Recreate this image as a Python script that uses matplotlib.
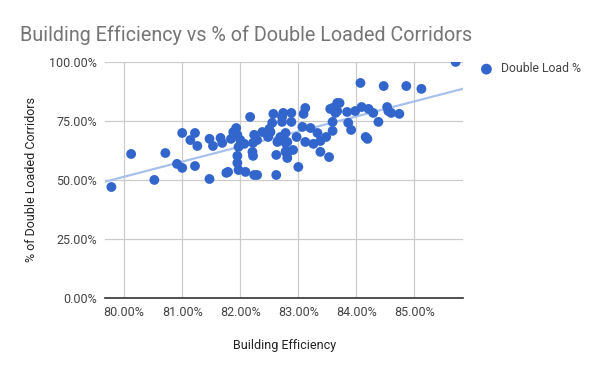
import numpy as np
import matplotlib
matplotlib.use('Agg')
import matplotlib.pyplot as plt
from matplotlib.ticker import FuncFormatter

plt.rcParams['font.family'] = ['Roboto', 'DejaVu Sans']

# building efficiency (%) and share of double loaded corridors (%)
efficiency = [
    79.78, 80.12, 80.52, 80.71, 80.91, 81.00, 81.22, 81.47, 81.76, 81.79,
    81.97, 81.95, 81.95, 82.09, 82.24, 82.29, 82.62, 82.62, 82.81, 82.91,
    83.00, 81.00, 81.22, 81.14, 81.26, 81.47, 81.53, 81.66, 81.69, 81.84,
    81.93, 81.95, 82.00, 82.07, 82.17, 81.97, 82.22, 82.24, 82.29, 82.38,
    82.47, 82.50, 82.57, 82.55, 82.64, 82.69, 82.74, 82.88, 82.88, 82.78,
    82.81, 82.97, 82.22, 82.21, 82.72, 83.12, 83.09, 83.59, 83.67, 83.64,
    82.72, 83.07, 83.21, 83.33, 83.59, 83.59, 83.12, 83.26, 83.38, 83.48,
    83.38, 83.53, 82.78, 82.78, 82.48, 81.88, 82.52, 85.71, 84.07, 84.47,
    84.86, 85.12, 83.71, 83.55, 83.67, 83.84, 83.98, 84.09, 84.21, 84.29,
    84.53, 84.55, 84.60, 84.74, 84.38, 83.86, 83.91, 84.16, 84.19, 82.81,
    82.79,
]
double_load = [
    47.0, 61.0, 50.0, 61.4, 56.8, 55.1, 55.9, 50.4, 53.0, 53.4,
    54.2, 57.2, 60.2, 53.4, 52.1, 52.1, 52.1, 60.6, 59.3, 62.7,
    55.5, 69.9, 69.9, 66.9, 64.4, 67.4, 64.4, 67.8, 65.7, 67.4,
    72.0, 69.1, 66.9, 65.3, 76.7, 64.0, 65.7, 69.1, 66.9, 70.3,
    69.1, 71.6, 78.0, 74.2, 66.1, 68.2, 78.4, 78.4, 74.6, 69.9,
    66.1, 68.2, 60.2, 61.9, 76.7, 80.5, 78.0, 80.5, 82.6, 78.4,
    74.6, 72.5, 72.0, 69.9, 74.6, 70.8, 66.1, 65.3, 66.5, 68.2,
    61.9, 59.7, 61.9, 65.7, 68.2, 70.3, 70.3, 100.0, 91.1, 89.8,
    89.8, 88.6, 82.6, 80.1, 79.2, 78.8, 79.2, 80.9, 80.1, 78.4,
    80.9, 79.2, 78.4, 78.0, 74.6, 74.2, 71.2, 68.2, 67.4, 61.4,
    62.3,
]
x_ticks = [80, 81, 82, 83, 84, 85]
y_ticks = [0, 25, 50, 75, 100]

x = np.array(efficiency)
y = np.array(double_load)

fig = plt.figure(figsize=(6, 3.71), dpi=100)
ax = fig.add_axes([0.175, 0.197, 0.597, 0.636])

xlim = (79.67, 85.84)
slope, icpt = np.polyfit(x, y, 1)
tx = np.array(xlim)
ax.plot(tx, slope * tx + icpt, color='#a8c0ec', lw=1.6, zorder=2)

ax.scatter(x, y, s=50, color='#3366cc', edgecolors='none', zorder=3, label='Double Load %')

ax.set_xlim(*xlim)
ax.set_ylim(0, 100)
ax.set_xticks(x_ticks)
ax.set_yticks(y_ticks)
ax.xaxis.set_major_formatter(FuncFormatter(lambda v, p: '%.2f%%' % v))
ax.yaxis.set_major_formatter(FuncFormatter(lambda v, p: '%.2f%%' % v))
ax.grid(True, color='#cccccc', lw=0.9, zorder=0)
ax.set_axisbelow(True)
for s in ['top', 'right', 'left']:
    ax.spines[s].set_visible(False)
ax.spines['bottom'].set_color('#333333')
ax.spines['bottom'].set_linewidth(1.2)
ax.tick_params(length=0, labelsize=9, colors='#444444', pad=6)

ax.set_xlabel('Building Efficiency', fontsize=9, color='#222222', labelpad=14)
ax.set_ylabel('% of Double Loaded Corridors', fontsize=9, color='#222222', labelpad=8)

fig.text(0.033, 0.89, 'Building Efficiency vs % of Double Loaded Corridors',
         fontsize=14.2, color='#757575', va='baseline')

leg = ax.legend(loc='upper left', bbox_to_anchor=(1.0, 1.045), frameon=False,
                fontsize=8.8, handletextpad=0.2, markerscale=1.1)
for t in leg.get_texts():
    t.set_color('#444444')

fig.savefig('out.png', dpi=100)
